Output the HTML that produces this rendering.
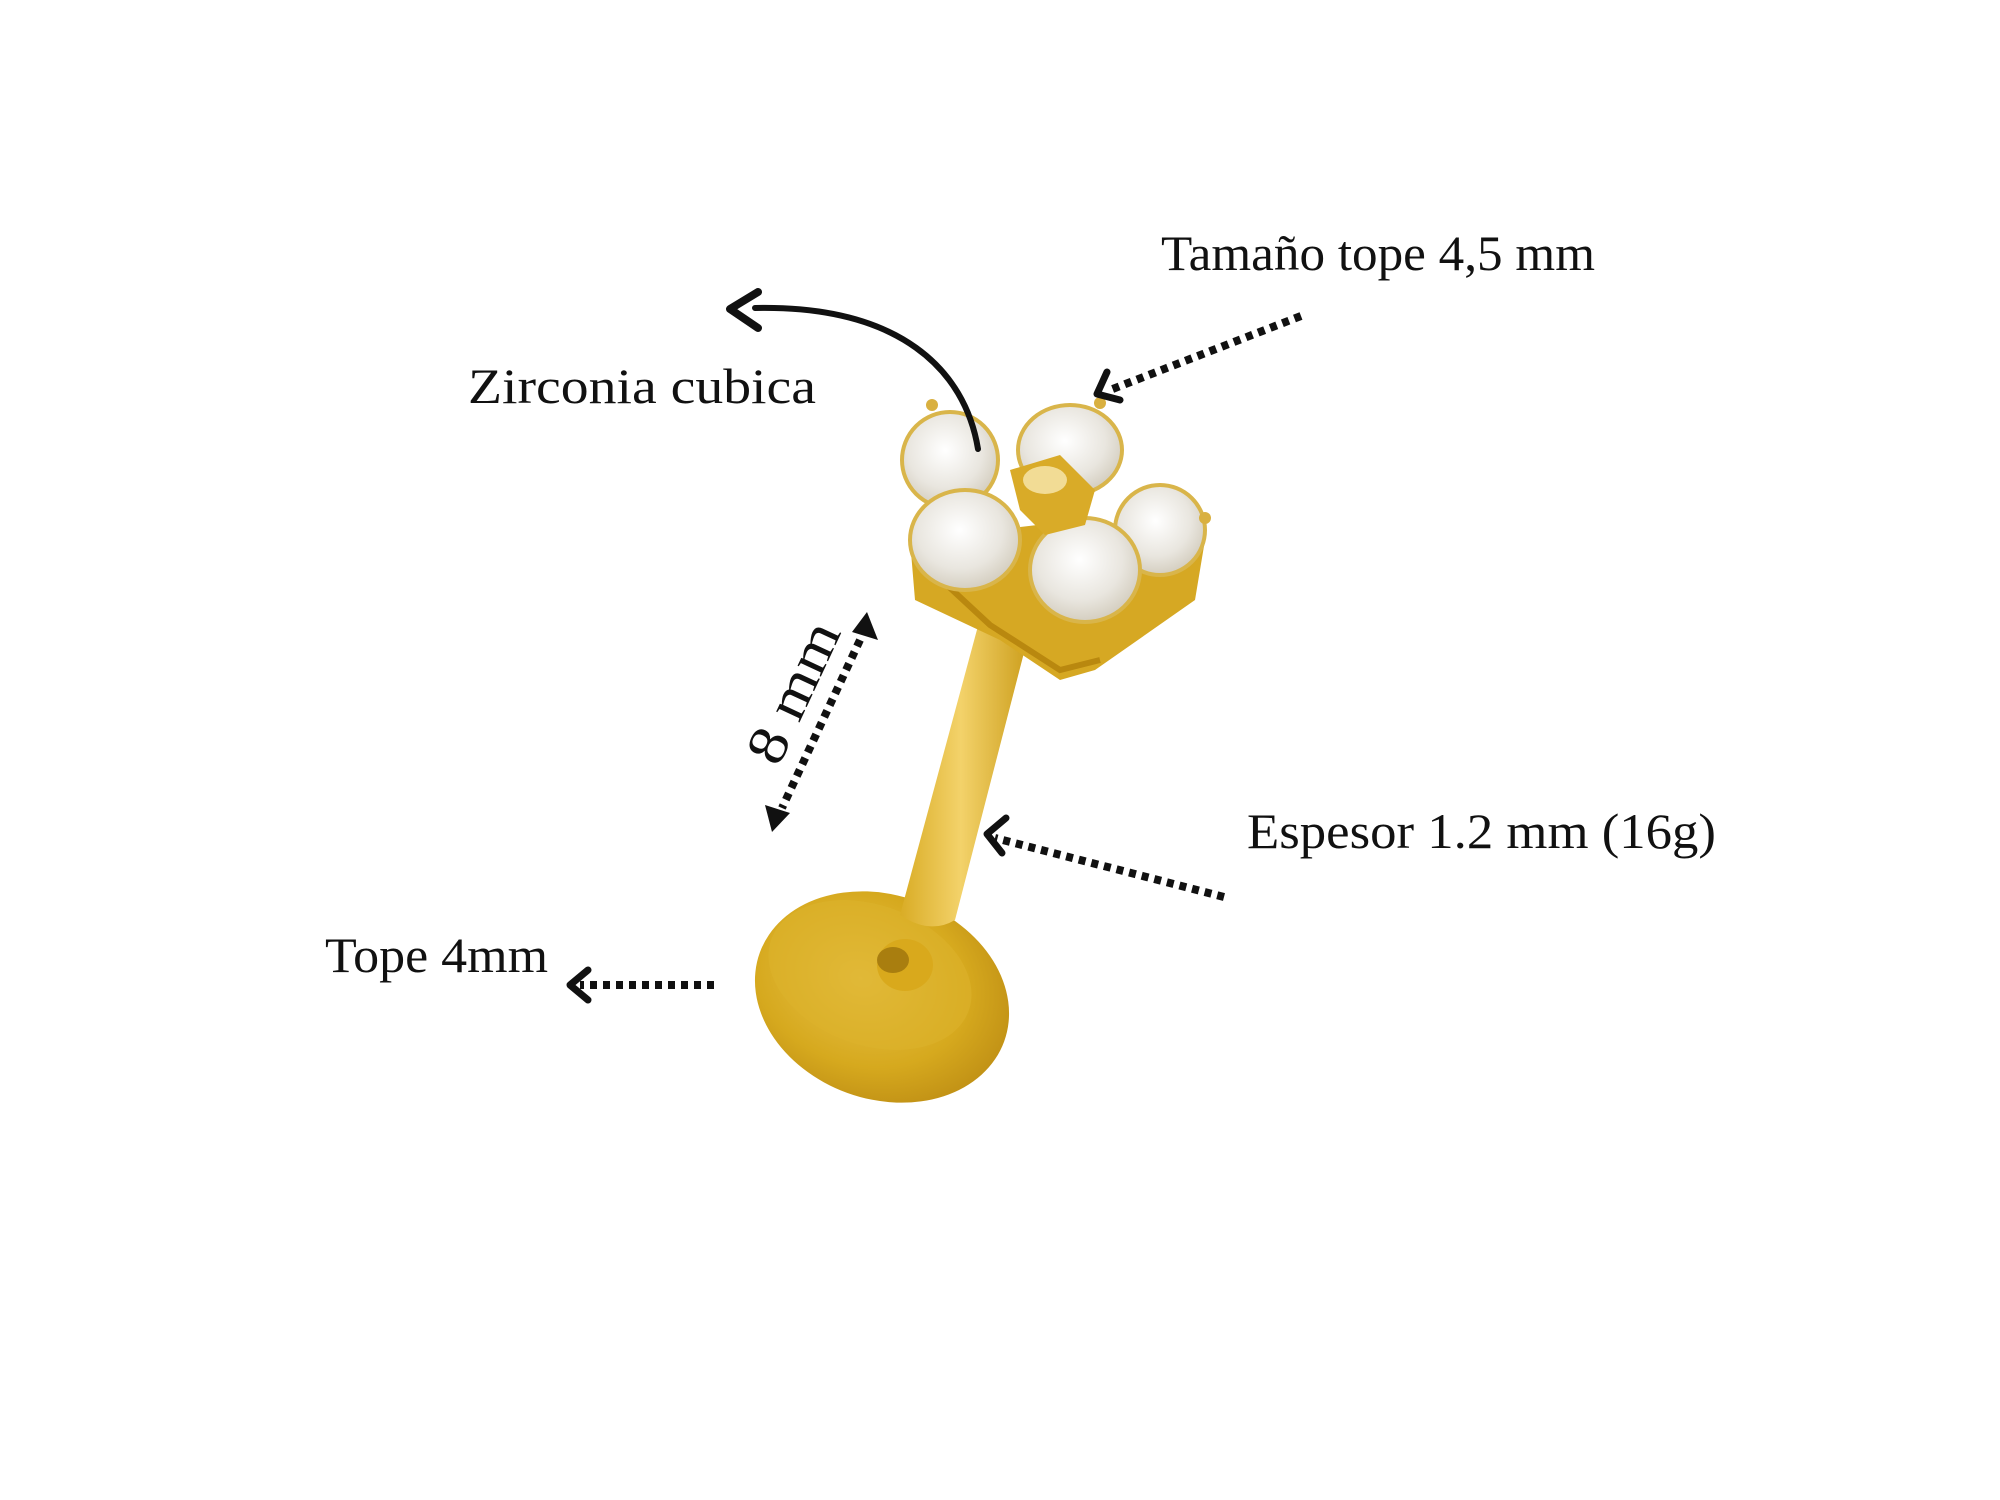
<!DOCTYPE html>
<html><head><meta charset="utf-8"><style>
html,body{margin:0;padding:0;background:#fff;}
svg{display:block}
text{font-family:"Liberation Serif",serif;fill:#111;}
</style></head><body>
<svg width="2000" height="1500" viewBox="0 0 2000 1500" xmlns="http://www.w3.org/2000/svg">
<defs>
<radialGradient id="disc" cx="40%" cy="45%" r="70%">
<stop offset="0" stop-color="#e8c24a"/><stop offset="0.6" stop-color="#d6a91e"/><stop offset="1" stop-color="#b98812"/>
</radialGradient>
<linearGradient id="shaft" x1="0" y1="0" x2="1" y2="0">
<stop offset="0" stop-color="#d9ac25"/><stop offset="0.45" stop-color="#f3d26a"/><stop offset="1" stop-color="#c99a16"/>
</linearGradient>
<radialGradient id="gem" cx="45%" cy="40%" r="65%">
<stop offset="0" stop-color="#ffffff"/><stop offset="0.6" stop-color="#e9e6df"/><stop offset="1" stop-color="#cfc8b8"/>
</radialGradient>
</defs>

<!-- disc -->
<ellipse cx="882" cy="997" rx="130" ry="102" transform="rotate(20 882 997)" fill="url(#disc)"/>
<ellipse cx="870" cy="975" rx="105" ry="70" transform="rotate(20 870 975)" fill="#dcb22c" opacity="0.6"/>
<!-- shaft -->
<path d="M985,600 L1035,610 L955,920 Q930,935 900,915 Z" fill="url(#shaft)"/>
<ellipse cx="905" cy="965" rx="28" ry="26" fill="#d9a91c"/>
<ellipse cx="893" cy="960" rx="16" ry="13" fill="#9c730c" opacity="0.8"/>

<!-- flower base -->
<path d="M910,540 L915,600 L1000,640 L1060,680 L1095,670 L1195,600 L1205,540 L1080,520 Z" fill="#d6a823"/>
<path d="M920,560 L990,625 L1060,670 L1100,660" fill="none" stroke="#b9880f" stroke-width="6"/>
<!-- petals -->
<ellipse cx="950" cy="460" rx="48" ry="48" fill="url(#gem)" stroke="#d9b54a" stroke-width="4"/>
<ellipse cx="1070" cy="450" rx="52" ry="45" fill="url(#gem)" stroke="#d9b54a" stroke-width="4"/>
<ellipse cx="1160" cy="530" rx="45" ry="45" fill="url(#gem)" stroke="#d9b54a" stroke-width="4"/>
<ellipse cx="965" cy="540" rx="55" ry="50" fill="url(#gem)" stroke="#d9b54a" stroke-width="4"/>
<ellipse cx="1085" cy="570" rx="55" ry="52" fill="url(#gem)" stroke="#d9b54a" stroke-width="4"/>
<path d="M1010,470 L1060,455 L1095,490 L1085,525 L1045,535 L1020,510 Z" fill="#d9ab28"/>
<ellipse cx="1045" cy="480" rx="22" ry="14" fill="#f2dc95"/>
<circle cx="932" cy="405" r="6" fill="#d9b040"/><circle cx="1100" cy="403" r="6" fill="#d9b040"/><circle cx="1205" cy="518" r="6" fill="#d9b040"/>

<!-- curved arrow -->
<path d="M978,449 C965,370 900,305 755,308" fill="none" stroke="#111" stroke-width="6" stroke-linecap="round"/>
<path d="M758,292 L730,309 L758,328" fill="none" stroke="#111" stroke-width="8" stroke-linecap="round" stroke-linejoin="round"/>

<!-- dotted arrows -->
<g stroke="#111" stroke-width="8" fill="none" stroke-dasharray="7 6">
<line x1="1301" y1="316" x2="1110" y2="390"/>
<line x1="1224" y1="897" x2="995" y2="838"/>
<line x1="714" y1="985" x2="580" y2="985"/>
<line x1="860" y1="640" x2="782" y2="808"/>
</g>
<g stroke="#111" stroke-width="7" fill="none" stroke-linecap="round" stroke-linejoin="round">
<path d="M1107,372 L1097,394 L1120,400"/>
<path d="M1006,818 L987,834 L1002,853"/>
<path d="M588,970 L570,985 L588,1000"/>
</g>
<path d="M867,612 L878,640 L852,632 Z" fill="#111"/>
<path d="M772,832 L765,805 L790,813 Z" fill="#111"/>

<!-- labels -->
<text x="1161" y="270" font-size="50" textLength="434" lengthAdjust="spacingAndGlyphs">Tamaño tope 4,5 mm</text>
<text x="468" y="403" font-size="50" textLength="348" lengthAdjust="spacingAndGlyphs">Zirconia cubica</text>
<text x="1247" y="848" font-size="50" textLength="469" lengthAdjust="spacingAndGlyphs">Espesor 1.2 mm (16g)</text>
<text x="325" y="972" font-size="50" textLength="223" lengthAdjust="spacingAndGlyphs">Tope 4mm</text>
<text x="0" y="0" font-size="56" text-anchor="middle" textLength="150" lengthAdjust="spacingAndGlyphs" transform="translate(810,700) rotate(-65)">8 mm</text>
</svg>
</body></html>
